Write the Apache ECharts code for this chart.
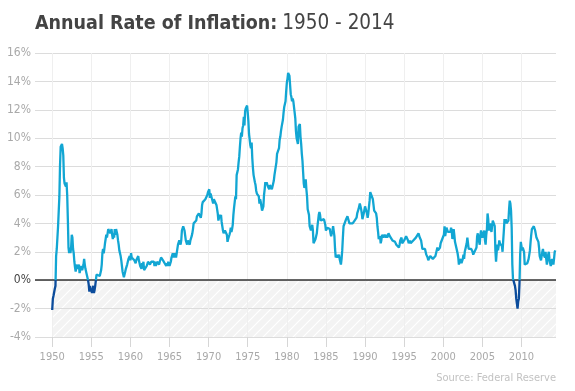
<!DOCTYPE html>
<html><head><meta charset="utf-8">
<script src="https://cdn.jsdelivr.net/npm/echarts@6/dist/echarts.min.js"></script>
<style>html,body{margin:0;padding:0;background:#fff}#c{width:575px;height:391px}</style>
</head><body><div id="c"></div>
<script>
// Monthly year-over-year inflation (%), starting January 1950
const startYear = 1950;
const rates1950s = [
 -2.1,-1.3,-1.1,-1.2,-0.6,-0.4,1.7,2.2,2.2,3.8,3.8,5.9,
 8.1,9.4,9.3,9.6,9.3,8.8,7.2,6.8,6.9,6.6,6.9,6.0,
 4.3,2.3,1.9,2.3,1.9,2.3,3.2,3.0,2.2,1.9,1.3,0.9,
 0.6,0.9,1.1,0.8,0.8,1.1,0.5,0.7,0.7,1.0,0.7,0.7,
 1.1,1.5,1.1,0.8,0.7,0.4,0.4,0.0,-0.3,-0.8,-0.4,-0.8,
 -0.6,-0.9,-0.6,-0.4,-0.9,-0.7,-0.4,-0.4,0.4,0.4,0.3,0.4,
 0.4,0.3,0.4,0.7,1.1,1.9,2.2,1.9,2.2,2.6,2.9,3.2,
 3.0,3.3,3.6,3.6,3.7,3.3,3.3,3.6,3.2,2.9,3.3,3.0,
 3.6,3.2,3.6,3.6,3.2,2.8,2.5,2.1,2.1,1.7,1.4,1.0,
 0.6,0.4,0.2,0.4,0.6,0.8,0.9,1.1,1.3,1.5,1.4,1.7
];
const rates1960s = [
 1.4,1.9,1.6,1.7,1.7,1.5,1.4,1.4,1.2,1.4,1.3,1.4,
 1.7,1.4,1.4,1.0,0.9,0.8,1.2,1.0,1.3,0.7,0.7,0.8,
 0.7,1.0,1.1,1.3,1.4,1.3,1.1,1.2,1.3,1.3,1.3,1.3,
 1.3,1.0,1.3,1.0,0.9,1.3,1.4,1.3,1.1,1.3,1.3,1.6,
 1.6,1.6,1.4,1.3,1.3,1.3,1.3,1.0,1.2,1.0,1.3,1.2,
 1.0,1.0,1.3,1.6,1.6,1.9,1.6,1.9,1.6,1.9,1.6,1.9,
 1.9,2.5,2.5,2.8,2.8,2.5,2.8,3.5,3.5,3.8,3.8,3.5,
 3.5,2.8,2.8,2.5,2.8,2.8,2.8,2.5,2.8,2.9,3.1,3.3,
 3.6,4.0,4.0,4.0,3.9,4.2,4.5,4.5,4.4,4.7,4.7,4.7,
 4.4,4.7,5.3,5.5,5.5,5.5,5.4,5.7,5.7,5.7,6.0,6.2
];
const rates1970s = [
 6.2,6.4,5.8,6.1,6.1,6.0,6.0,5.4,5.7,5.7,5.6,5.6,
 5.3,5.0,4.7,4.2,4.4,4.6,4.4,4.6,4.1,3.8,3.5,3.3,
 3.3,3.5,3.5,3.5,3.2,2.7,2.9,2.9,3.2,3.4,3.7,3.4,
 3.6,3.9,4.6,5.1,5.5,5.9,5.7,7.4,7.4,7.8,8.3,8.7,
 9.4,10.0,10.4,10.1,10.7,10.9,11.5,10.9,11.9,12.1,12.2,12.3,
 11.8,11.2,10.3,10.2,9.5,9.3,9.7,8.6,7.9,7.4,7.4,6.9,
 6.7,6.3,6.1,6.1,6.2,5.9,5.4,5.7,5.5,5.5,4.9,4.9,
 5.2,6.0,6.4,6.9,6.7,6.9,6.8,6.6,6.6,6.4,6.7,6.7,
 6.8,6.4,6.6,6.5,7.0,7.4,7.7,7.8,8.3,8.9,8.9,9.0,
 9.3,9.9,10.1,10.5,10.8,10.9,11.3,11.8,12.2,12.1,12.6,13.3
];
const rates1980s = [
 13.9,14.2,14.6,14.6,14.4,14.4,13.1,12.9,12.6,12.8,12.6,12.5,
 11.8,11.4,10.5,10.0,9.8,9.6,10.8,10.8,11.0,10.1,9.6,8.9,
 8.4,7.6,6.8,6.5,6.7,7.1,6.4,5.9,5.0,5.1,4.6,3.8,
 3.7,3.5,3.6,3.9,3.5,2.6,2.5,2.6,2.9,2.9,3.3,3.8,
 4.2,4.6,4.8,4.6,4.2,4.2,4.2,4.3,4.3,4.3,4.1,3.9,
 3.5,3.5,3.7,3.7,3.8,3.8,3.6,3.3,3.1,3.2,3.5,3.8,
 3.9,3.1,2.2,1.6,1.5,1.8,1.6,1.6,1.8,1.5,1.3,1.1,
 1.5,2.1,3.0,3.8,3.9,3.7,3.9,4.3,4.4,4.5,4.5,4.4,
 4.0,3.9,3.9,3.9,3.9,4.0,4.1,4.0,4.2,4.2,4.2,4.4,
 4.7,4.8,5.0,5.1,5.4,5.2,5.0,4.7,4.3,4.5,4.7,4.6
];
const rates1990s = [
 5.2,5.3,5.2,4.7,4.4,4.7,4.8,5.6,6.2,6.3,6.3,6.1,
 5.7,5.3,4.9,4.9,5.0,4.7,4.4,3.8,3.4,2.9,3.0,3.1,
 2.6,2.8,3.2,3.2,3.0,3.1,3.2,3.1,3.0,3.2,3.0,2.9,
 3.3,3.2,3.1,3.2,3.2,3.0,2.8,2.8,2.7,2.8,2.7,2.7,
 2.5,2.5,2.5,2.4,2.3,2.5,2.8,2.9,3.0,2.6,2.7,2.7,
 2.8,2.9,2.9,3.1,3.2,3.0,2.8,2.6,2.5,2.8,2.6,2.5,
 2.7,2.7,2.8,2.9,2.9,2.8,3.0,2.9,3.0,3.0,3.3,3.3,
 3.0,3.0,2.8,2.5,2.2,2.3,2.2,2.2,2.2,2.1,1.8,1.7,
 1.6,1.4,1.4,1.4,1.7,1.7,1.7,1.6,1.5,1.5,1.5,1.6,
 1.7,1.6,1.7,2.3,2.1,2.0,2.1,2.3,2.6,2.6,2.6,2.7
];
const rates2000s = [
 2.7,3.2,3.8,3.1,3.2,3.7,3.7,3.4,3.5,3.4,3.4,3.4,
 3.7,3.5,2.9,3.3,3.6,3.2,2.7,2.7,2.6,2.1,1.9,1.6,
 1.1,1.1,1.5,1.6,1.2,1.1,1.5,1.8,1.5,2.0,2.2,2.4,
 2.6,3.0,3.0,2.2,2.1,2.1,2.1,2.2,2.3,2.0,1.8,1.9,
 1.9,1.7,1.7,2.3,3.1,3.3,3.0,2.7,2.5,3.2,3.5,3.3,
 3.0,3.0,3.1,3.5,2.8,2.5,3.2,3.6,4.7,4.3,3.5,3.4,
 4.0,3.6,3.4,3.5,4.2,4.3,4.1,3.8,2.1,1.3,2.0,2.5,
 2.1,2.4,2.8,2.6,2.7,2.7,2.4,2.0,2.8,3.5,4.3,4.1,
 4.3,4.0,4.0,3.9,4.2,5.0,5.6,5.4,4.9,3.7,1.1,0.1,
 0.0,0.2,-0.4,-0.7,-1.3,-1.4,-2.0,-1.5,-1.3,-0.2,1.8,2.7
];
const rates2010s = [
 2.6,2.1,2.3,2.2,2.0,1.1,1.2,1.1,1.1,1.2,1.1,1.5,
 1.6,2.1,2.7,3.2,3.6,3.6,3.6,3.8,3.9,3.5,3.4,3.0,
 2.9,2.9,2.7,2.3,1.7,1.7,1.4,1.7,2.0,2.2,1.8,1.7,
 1.6,2.0,1.5,1.1,1.4,1.8,2.0,1.5,1.2,1.0,1.2,1.5,
 1.6,1.1,1.5,2.0,2.1,2.1
];
const xTickYears = [1950,1955,1960,1965,1970,1975,1980,1985,1990,1995,2000,2005,2010];
const titleBold = 'Annual Rate of Inflation:';
const titleRest = '1950 - 2014';
const sourceText = 'Source: Federal Reserve';

const rates = [].concat(rates1950s, rates1960s, rates1970s, rates1980s, rates1990s, rates2000s, rates2010s);
const seriesData = rates.map((v, i) => [startYear + i / 12, v]);
const lastX = startYear + (rates.length - 1) / 12;

// hatch pattern
const pat = document.createElement('canvas');
pat.width = 10; pat.height = 10;
const pc = pat.getContext('2d');
pc.fillStyle = '#f3f3f3'; pc.fillRect(0, 0, 10, 10);
pc.strokeStyle = '#ffffff'; pc.lineWidth = 1.2;
pc.beginPath();
pc.moveTo(-1, 11); pc.lineTo(11, -1);
pc.moveTo(-1, 1); pc.lineTo(1, -1);
pc.moveTo(9, 11); pc.lineTo(11, 9);
pc.stroke();

const FONT = '"DejaVu Sans Condensed", "Roboto", sans-serif';
const chart = echarts.init(document.getElementById('c'), null, {renderer: 'canvas'});
chart.setOption({
  animation: false,
  backgroundColor: '#fff',
  title: [{
    left: 35, top: 13, padding: 0,
    text: '{b|' + titleBold + '} {n|' + titleRest + '}',
    textStyle: {
      rich: {
        b: {fontFamily: FONT, fontWeight: 'bold', fontSize: 19.5, color: '#444'},
        n: {fontFamily: FONT, fontWeight: 'normal', fontSize: 20.5, color: '#444'}
      }
    }
  }, {
    right: 19, top: 373, padding: 0,
    text: sourceText,
    textStyle: {fontFamily: FONT, fontWeight: 'normal', fontSize: 11, color: '#c2c2c2'}
  }],
  grid: {left: 35, right: 19, top: 53, bottom: 54},
  visualMap: {
    type: 'piecewise', show: false, dimension: 1, seriesIndex: 0,
    pieces: [{min: -10, max: 0, color: '#0b4c9c'}, {min: 0, max: 30, color: '#12a6d3'}]
  },
  xAxis: {
    type: 'value', min: 1947.8, max: lastX,
    axisLine: {show: false, onZero: false},
    axisTick: {show: true, length: 10, customValues: xTickYears, lineStyle: {color: '#d6d6d6'}},
    axisLabel: {customValues: xTickYears, margin: 15, color: '#a9a9a9', fontSize: 11, fontFamily: FONT,
      formatter: (v) => String(Math.round(v))},
    splitLine: {show: true, lineStyle: {color: '#efefef', width: 1}}
  },
  yAxis: {
    type: 'value', min: -4, max: 16, interval: 2,
    axisLine: {show: false}, axisTick: {show: false},
    axisLabel: {
      margin: 4, fontSize: 12, fontFamily: FONT,
      formatter: '{value}%',
      color: (v) => (Number(v) === 0 ? '#444' : '#a9a9a9')
    },
    splitLine: {lineStyle: {color: '#dcdcdc', width: 1}}
  },
  series: [{
    type: 'line', data: seriesData, showSymbol: false, symbol: 'none',
    lineStyle: {width: 2.3}, z: 3,
    markLine: {
      silent: true, symbol: 'none', z: 2, label: {show: false},
      lineStyle: {color: '#333', width: 1.5, type: 'solid'},
      data: [{yAxis: 0}]
    }
  }, {
    type: 'line', data: [], z: 1,
    markArea: {
      silent: true, z: -1,
      itemStyle: {color: {image: pat, repeat: 'repeat'}},
      data: [[{xAxis: 1950, yAxis: -4}, {xAxis: lastX, yAxis: 0}]]
    }
  }]
});
</script></body></html>
